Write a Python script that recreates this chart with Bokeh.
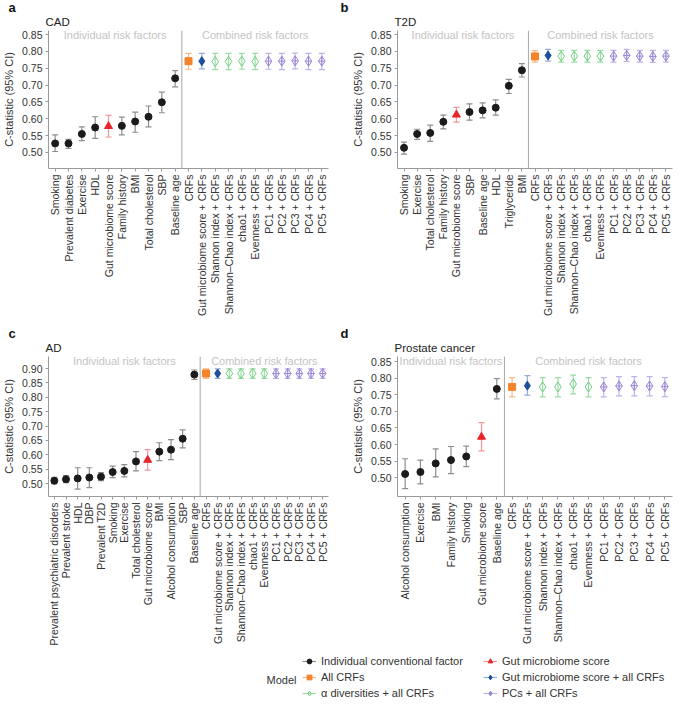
import math
from bokeh.plotting import figure
from bokeh.models import (FactorRange, Range1d, ColumnDataSource, Whisker, TeeHead, Span, Label,
                          FixedTicker, NumeralTickFormatter, Legend, LegendItem, Title)
from bokeh.layouts import column, row
from bokeh.embed import file_html
from bokeh.resources import INLINE

FONT = "Liberation Sans"

# ---------------- data ----------------
combined_labels = ["CRFs", "Gut microbiome score + CRFs", "Shannon index + CRFs",
                   "Shannon\u2013Chao index + CRFs", "chao1 + CRFs", "Evenness + CRFs",
                   "PC1 + CRFs", "PC2 + CRFs", "PC3 + CRFs", "PC4 + CRFs", "PC5 + CRFs"]
combined_groups = ["crf", "gutcrf", "alpha", "alpha", "alpha", "alpha",
                   "pc", "pc", "pc", "pc", "pc"]

cad_labels = ["Smoking", "Prevalent diabetes", "Exercise", "HDL", "Gut microbiome score",
              "Family history", "BMI", "Total cholesterol", "SBP", "Baseline age"]
cad_mid = [0.527, 0.527, 0.555, 0.574, 0.578, 0.579, 0.592, 0.606, 0.649, 0.720]
cad_lo = [0.503, 0.512, 0.535, 0.542, 0.546, 0.552, 0.560, 0.576, 0.618, 0.695]
cad_hi = [0.552, 0.539, 0.576, 0.606, 0.610, 0.605, 0.620, 0.638, 0.679, 0.743]
cad_comb_mid = [0.771, 0.771, 0.770, 0.770, 0.771, 0.770, 0.771, 0.771, 0.772, 0.771, 0.771]
cad_comb_lo = [0.747, 0.748, 0.746, 0.746, 0.747, 0.746, 0.747, 0.746, 0.748, 0.746, 0.746]
cad_comb_hi = [0.794, 0.794, 0.794, 0.794, 0.794, 0.794, 0.794, 0.794, 0.795, 0.794, 0.794]

t2d_labels = ["Smoking", "Exercise", "Total cholesterol", "Family history", "Gut microbiome score",
              "SBP", "Baseline age", "HDL", "Triglyceride", "BMI"]
t2d_mid = [0.514, 0.555, 0.558, 0.591, 0.612, 0.620, 0.625, 0.633, 0.698, 0.744]
t2d_lo = [0.495, 0.539, 0.533, 0.570, 0.590, 0.596, 0.603, 0.611, 0.675, 0.724]
t2d_hi = [0.531, 0.569, 0.581, 0.611, 0.634, 0.644, 0.647, 0.656, 0.717, 0.764]
t2d_comb_mid = [0.785, 0.788, 0.786, 0.786, 0.786, 0.786, 0.786, 0.788, 0.786, 0.785, 0.786]
t2d_comb_lo = [0.768, 0.771, 0.768, 0.768, 0.768, 0.768, 0.768, 0.770, 0.768, 0.767, 0.768]
t2d_comb_hi = [0.802, 0.806, 0.803, 0.803, 0.803, 0.803, 0.803, 0.806, 0.803, 0.803, 0.803]

ad_labels = ["Prevalent psychiatric disorders", "Prevalent stroke", "HDL", "DBP", "Prevalent T2D",
             "Smoking", "Exercise", "Total cholesterol", "Gut microbiome score", "BMI",
             "Alcohol consumption", "SBP", "Baseline age"]
ad_mid = [0.510, 0.515, 0.518, 0.521, 0.524, 0.540, 0.544, 0.577, 0.582, 0.611, 0.618, 0.656, 0.879]
ad_lo = [0.499, 0.503, 0.481, 0.486, 0.510, 0.521, 0.523, 0.544, 0.547, 0.580, 0.583, 0.624, 0.862]
ad_hi = [0.522, 0.528, 0.555, 0.555, 0.538, 0.561, 0.566, 0.611, 0.618, 0.642, 0.653, 0.687, 0.895]
ad_comb_mid = [0.883, 0.883, 0.883, 0.883, 0.883, 0.883, 0.883, 0.883, 0.883, 0.883, 0.883]
ad_comb_lo = [0.866, 0.866, 0.866, 0.866, 0.866, 0.866, 0.866, 0.866, 0.866, 0.866, 0.866]
ad_comb_hi = [0.899, 0.899, 0.899, 0.899, 0.899, 0.899, 0.899, 0.899, 0.899, 0.899, 0.899]

prostate_labels = ["Alcohol consumption", "Exercise", "BMI", "Family history", "Smoking",
                   "Gut microbiome score", "Baseline age"]
prostate_mid = [0.511, 0.517, 0.543, 0.553, 0.564, 0.623, 0.768]
prostate_lo = [0.467, 0.481, 0.502, 0.512, 0.533, 0.581, 0.738]
prostate_hi = [0.557, 0.553, 0.587, 0.594, 0.595, 0.666, 0.799]
prostate_comb_mid = [0.774, 0.778, 0.774, 0.774, 0.783, 0.774, 0.774, 0.777, 0.778, 0.777, 0.775]
prostate_comb_lo = [0.744, 0.749, 0.744, 0.744, 0.753, 0.744, 0.744, 0.747, 0.747, 0.747, 0.745]
prostate_comb_hi = [0.802, 0.808, 0.802, 0.802, 0.810, 0.802, 0.802, 0.805, 0.805, 0.805, 0.802]

ticks_085 = [0.50, 0.55, 0.60, 0.65, 0.70, 0.75, 0.80, 0.85]
ticks_090 = [0.50, 0.55, 0.60, 0.65, 0.70, 0.75, 0.80, 0.85, 0.90]

legend_labels = {
    "ind": "Individual conventional factor",
    "gut": "Gut microbiome score",
    "crf": "All CRFs",
    "gutcrf": "Gut microbiome score + all CRFs",
    "alpha": "\u03b1 diversities + all CRFs",
    "pc": "PCs + all CRFs",
}
legend_title = "Model"

# ---------------- styles ----------------
STYLE = {
    "ind":    dict(marker="circle", size=7, fill="#1b1b1b", line="#1b1b1b", wc="#8e8e8e"),
    "gut":    dict(marker="triangle", size=8, fill="#e8252d", line="#e8252d", wc="#f3959a"),
    "crf":    dict(marker="square", size=7, fill="#f5832a", line="#f5832a", wc="#f8b986"),
    "gutcrf": dict(marker="diamond", size=9, fill="#1d4f9e", line="#1d4f9e", wc="#93acd9"),
    "alpha":  dict(marker="diamond", size=10, fill=None, line="#6fcf7f", wc="#9bdca6"),
    "pc":     dict(marker="diamond_cross", size=10, fill=None, line="#9b86d6", wc="#bfb2e8"),
}
TXT = "#333333"
AXC = "#9a9a9a"


def make_panel(letter, title, ind_labels, ind_mid, ind_lo, ind_hi,
               comb_mid, comb_lo, comb_hi, y0, y1, ticks,
               fw, fh, bl, br, bt, bb):
    cats = ind_labels + combined_labels
    p = figure(x_range=FactorRange(factors=cats), y_range=Range1d(y0, y1),
               frame_width=fw, frame_height=fh,
               min_border_left=bl, min_border_right=br, min_border_top=bt, min_border_bottom=bb,
               output_backend="svg", toolbar_location=None)
    p.outline_line_color = None
    p.grid.visible = False

    groups = [("gut" if l == "Gut microbiome score" else "ind") for l in ind_labels] + combined_groups
    mids = ind_mid + comb_mid
    los = ind_lo + comb_lo
    his = ind_hi + comb_hi

    for g in ["ind", "gut", "crf", "gutcrf", "alpha", "pc"]:
        idx = [i for i, gg in enumerate(groups) if gg == g]
        if not idx:
            continue
        st = STYLE[g]
        src = ColumnDataSource(dict(x=[cats[i] for i in idx], y=[mids[i] for i in idx],
                                    lo=[los[i] for i in idx], hi=[his[i] for i in idx]))
        w = Whisker(base="x", upper="hi", lower="lo", source=src, dimension="height",
                    line_color=st["wc"], line_width=1.2,
                    upper_head=TeeHead(size=6, line_color=st["wc"], line_width=1.2),
                    lower_head=TeeHead(size=6, line_color=st["wc"], line_width=1.2))
        p.add_layout(w)
        p.scatter("x", "y", source=src, marker=st["marker"], size=st["size"],
                  fill_color=st["fill"], line_color=st["line"], line_width=1)

    n_ind = len(ind_labels)
    p.add_layout(Span(location=n_ind, dimension="height", line_color="#a8a8a8", line_width=1))
    ytxt = y1 - 0.012 * (y1 - y0) / 0.41
    p.add_layout(Label(x=n_ind / 2, y=ytxt, text="Individual risk factors", text_align="center",
                       text_baseline="middle", text_color="#c4c4c4", text_font_size="11px",
                       text_font=FONT))
    p.add_layout(Label(x=n_ind + len(combined_labels) / 2, y=ytxt, text="Combined risk factors",
                       text_align="center", text_baseline="middle", text_color="#c4c4c4",
                       text_font_size="11px", text_font=FONT))

    # title (closest to frame) then panel letter (above it)
    p.add_layout(Title(text=title, align="left", offset=-3, standoff=5, text_line_height=1.0,
                       text_font_size="11.5px", text_font=FONT, text_color="#222222",
                       text_font_style="normal"), "above")
    p.add_layout(Title(text=letter, align="left", offset=-(bl - 4), standoff=-6,
                       text_line_height=1.0,
                       text_font_size="13px", text_font=FONT, text_color="#111111",
                       text_font_style="bold"), "above")

    # axes
    p.yaxis.ticker = FixedTicker(ticks=ticks, minor_ticks=[])
    p.yaxis.formatter = NumeralTickFormatter(format="0.00")
    p.yaxis.axis_label = "C-statistic (95% CI)"
    p.yaxis.axis_label_text_font_style = "normal"
    p.yaxis.axis_label_text_font_size = "11px"
    p.yaxis.axis_label_text_font = FONT
    p.yaxis.axis_label_text_color = TXT
    p.yaxis.axis_label_standoff = 4
    for ax in (p.xaxis, p.yaxis):
        ax.axis_line_color = AXC
        ax.major_tick_line_color = AXC
        ax.major_tick_out = 3
        ax.major_tick_in = 0
        ax.minor_tick_line_color = None
        ax.major_label_text_font = FONT
        ax.major_label_text_font_size = "10.5px"
        ax.major_label_text_color = TXT
        ax.major_label_standoff = 3
    p.xaxis.major_label_orientation = math.pi / 2
    return p


pa = make_panel("a", "CAD", cad_labels, cad_mid, cad_lo, cad_hi,
                cad_comb_mid, cad_comb_lo, cad_comb_hi, 0.4525, 0.862, ticks_085,
                280, 138, 44, 8, 10, 158)
pb = make_panel("b", "T2D", t2d_labels, t2d_mid, t2d_lo, t2d_hi,
                t2d_comb_mid, t2d_comb_lo, t2d_comb_hi, 0.4525, 0.862, ticks_085,
                275, 138, 61, 4, 10, 158)
pc = make_panel("c", "AD", ad_labels, ad_mid, ad_lo, ad_hi,
                ad_comb_mid, ad_comb_lo, ad_comb_hi, 0.455, 0.942, ticks_090,
                280, 140, 44, 8, 10, 150)
pd = make_panel("d", "Prostate cancer", prostate_labels, prostate_mid, prostate_lo, prostate_hi,
                prostate_comb_mid, prostate_comb_lo, prostate_comb_hi, 0.443, 0.866, ticks_085,
                275, 140, 61, 4, 10, 150)

# ---------------- legend ----------------
LH = 54
LT = 6
MW = 302
pm = figure(width=MW, height=LH, x_range=Range1d(0, MW), y_range=Range1d(0, LH),
            x_axis_location=None, y_axis_location=None, min_border=0,
            output_backend="svg", toolbar_location=None)
pm.outline_line_color = None
pm.grid.visible = False
pm.add_layout(Label(x=266, y=LH - LT - 23, text=legend_title, text_font=FONT, text_font_size="11px",
                    text_color=TXT, text_baseline="middle", text_align="left"))

LW = 370
pl = figure(width=LW, height=LH, x_range=Range1d(0, LW), y_range=Range1d(0, LH - LT),
            x_axis_location=None, y_axis_location=None,
            min_border_left=0, min_border_right=0, min_border_bottom=0, min_border_top=LT,
            output_backend="svg", toolbar_location=None)
pl.outline_line_color = None
pl.grid.visible = False
items = []
for g in ["ind", "crf", "alpha", "gut", "gutcrf", "pc"]:
    st = STYLE[g]
    lr = pl.line(x=[math.nan, math.nan], y=[math.nan, math.nan], line_color=st["wc"], line_width=1.2)
    sr = pl.scatter(x=[math.nan], y=[math.nan], marker=st["marker"], size=st["size"] - 2,
                    fill_color=st["fill"], line_color=st["line"])
    items.append(LegendItem(label=legend_labels[g], renderers=[lr, sr]))
leg = Legend(items=items, ncols=2, location="top_left", border_line_color=None,
             background_fill_alpha=0, label_text_font=FONT, label_text_font_size="11px",
             label_text_color=TXT, glyph_width=14, glyph_height=12, label_height=14,
             label_width=160, spacing=2, padding=0, margin=0, label_standoff=5)
pl.add_layout(leg)

layout = column(row(pa, pb), row(pc, pd), row(pm, pl))
open("out.html", "w").write(file_html(layout, INLINE))
